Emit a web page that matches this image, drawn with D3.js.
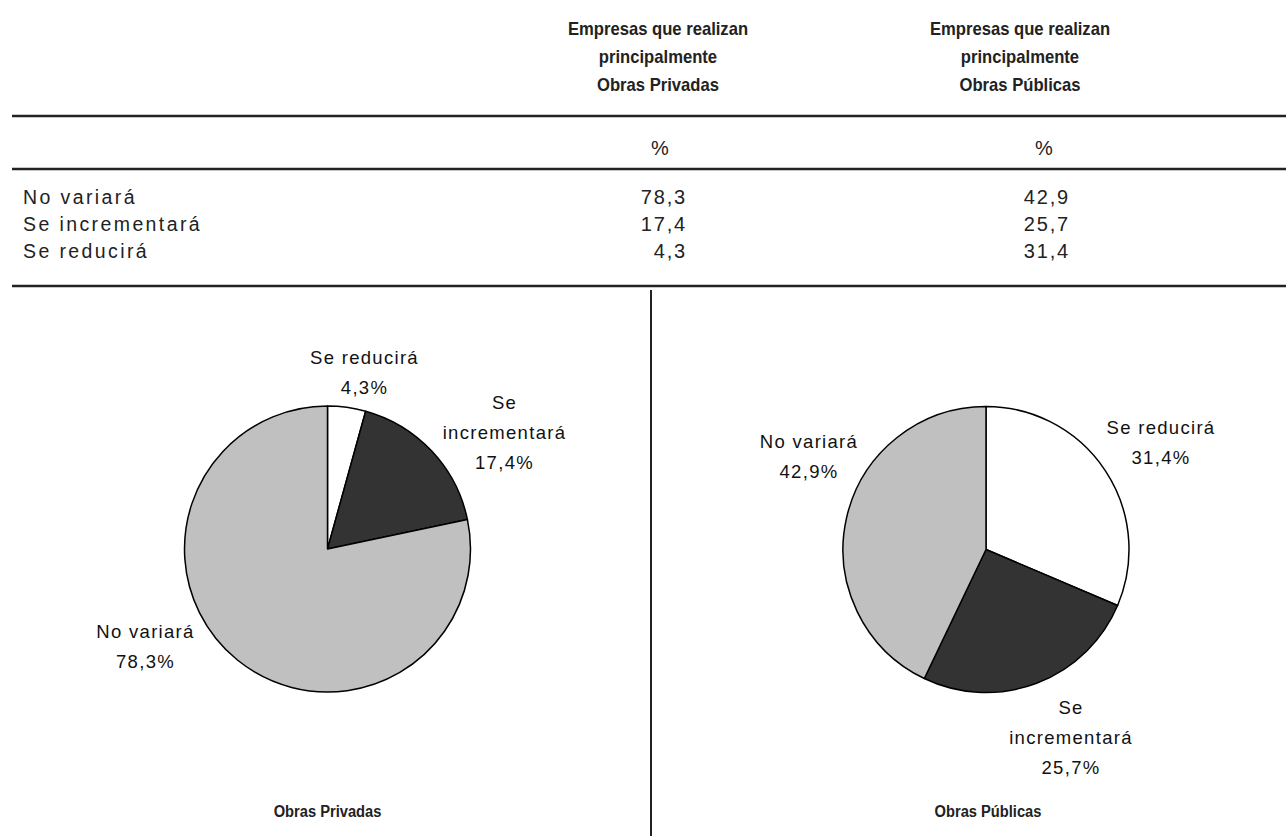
<!DOCTYPE html>
<html>
<head>
<meta charset="utf-8">
<script src="https://cdn.jsdelivr.net/npm/d3@7"></script>
<style>
  html, body { margin: 0; padding: 0; background: #fff; }
  svg { display: block; font-family: "Liberation Sans", Arial, Helvetica, sans-serif; }
</style>
</head>
<body>
<svg id="chart" width="1286" height="836"></svg>
<script>
// ---- Data ----
const categories = ["No variará", "Se incrementará", "Se reducirá"];
const privadas = [78.3, 17.4, 4.3];
const publicas = [42.9, 25.7, 31.4];
const columnHeaders = [
  ["Empresas que realizan", "principalmente", "Obras Privadas"],
  ["Empresas que realizan", "principalmente", "Obras Públicas"]
];
const unitLabel = "%";
const pieTitles = ["Obras Privadas", "Obras Públicas"];
// order in which slices are drawn clockwise from 12 o'clock
const pieOrder = ["Se reducirá", "Se incrementará", "No variará"];
const colors = { "No variará": "#c0c0c0", "Se incrementará": "#333333", "Se reducirá": "#ffffff" };

const fmt = v => v.toFixed(1).replace(".", ",");

const svg = d3.select("#chart");
const W = 1286;
const NARROW = 0.875; // horizontal condensing of bold titles

function condense(sel) {
  sel.each(function () {
    const w = this.getComputedTextLength();
    d3.select(this).attr("textLength", w * NARROW).attr("lengthAdjust", "spacingAndGlyphs");
  });
}

// ---- Table ----
const hdrX = [658, 1020];
const valRight = [687, 1070];
const pctX = [660, 1044];

const hdr = svg.append("g");
columnHeaders.forEach((lines, ci) => {
  lines.forEach((t, li) => {
    hdr.append("text")
      .attr("x", hdrX[ci])
      .attr("y", 35 + li * 28)
      .attr("text-anchor", "middle")
      .attr("font-weight", "bold")
      .attr("font-size", 19)
      .attr("fill", "#222")
      .text(t)
      .call(condense);
  });
  hdr.append("text")
    .attr("x", pctX[ci]).attr("y", 155)
    .attr("text-anchor", "middle")
    .attr("font-size", 20)
    .attr("fill", "#222")
    .text(unitLabel);
});

[116, 169, 286].forEach(y => {
  svg.append("line").attr("x1", 12).attr("x2", W).attr("y1", y).attr("y2", y)
    .attr("stroke", "#222").attr("stroke-width", 2.5);
});

const rowY = d3.scalePoint().domain(categories).range([204, 258]);
const rows = svg.append("g");
categories.forEach((c, i) => {
  rows.append("text").attr("x", 23).attr("y", rowY(c))
    .attr("font-size", 19.5).attr("letter-spacing", 2.4).attr("fill", "#222").text(c);
  [privadas, publicas].forEach((arr, ci) => {
    rows.append("text").attr("x", valRight[ci]).attr("y", rowY(c))
      .attr("text-anchor", "end").attr("font-size", 20).attr("letter-spacing", 1.8)
      .attr("fill", "#222").text(fmt(arr[i]));
  });
});

// vertical divider
svg.append("line").attr("x1", 651).attr("x2", 651).attr("y1", 290).attr("y2", 836)
  .attr("stroke", "#222").attr("stroke-width", 2);

// ---- Pies ----
const R = 143;
const pie = d3.pie().sort(null).value(d => d.v);
const arc = d3.arc().innerRadius(0).outerRadius(R);

// label layout: [dx, dy] of first-line baseline relative to pie centre
const labelLayout = [
  { "Se reducirá": [37, -185], "Se incrementará": [177, -140], "No variará": [-182, 89] },
  { "Se reducirá": [175, -116], "Se incrementará": [85, 164], "No variará": [-177, -102] }
];
const centers = [[327.5, 549], [986, 549.5]];

[privadas, publicas].forEach((arr, pi) => {
  const data = pieOrder.map(c => ({ c, v: arr[categories.indexOf(c)] }));
  const g = svg.append("g").attr("transform", `translate(${centers[pi][0]},${centers[pi][1]})`);
  g.selectAll("path").data(pie(data)).join("path")
    .attr("d", arc)
    .attr("fill", d => colors[d.data.c])
    .attr("stroke", "#000").attr("stroke-width", 1.5).attr("stroke-linejoin", "round");

  pie(data).forEach(d => {
    const [dx, dy] = labelLayout[pi][d.data.c];
    const lines = d.data.c === "Se incrementará"
      ? ["Se", "incrementará", fmt(d.data.v) + "%"]
      : [d.data.c, fmt(d.data.v) + "%"];
    const t = g.append("text").attr("text-anchor", "middle")
      .attr("font-size", 18.5).attr("letter-spacing", 1.3).attr("fill", "#111");
    lines.forEach((l, li) => {
      t.append("tspan").attr("x", dx).attr("y", dy + li * 30).text(l);
    });
  });

  svg.append("text")
    .attr("x", centers[pi][0] + (pi === 0 ? 0 : 2)).attr("y", 817)
    .attr("text-anchor", "middle").attr("font-weight", "bold").attr("font-size", 16.8)
    .attr("fill", "#222").text(pieTitles[pi])
    .call(condense);
});
</script>
</body>
</html>
